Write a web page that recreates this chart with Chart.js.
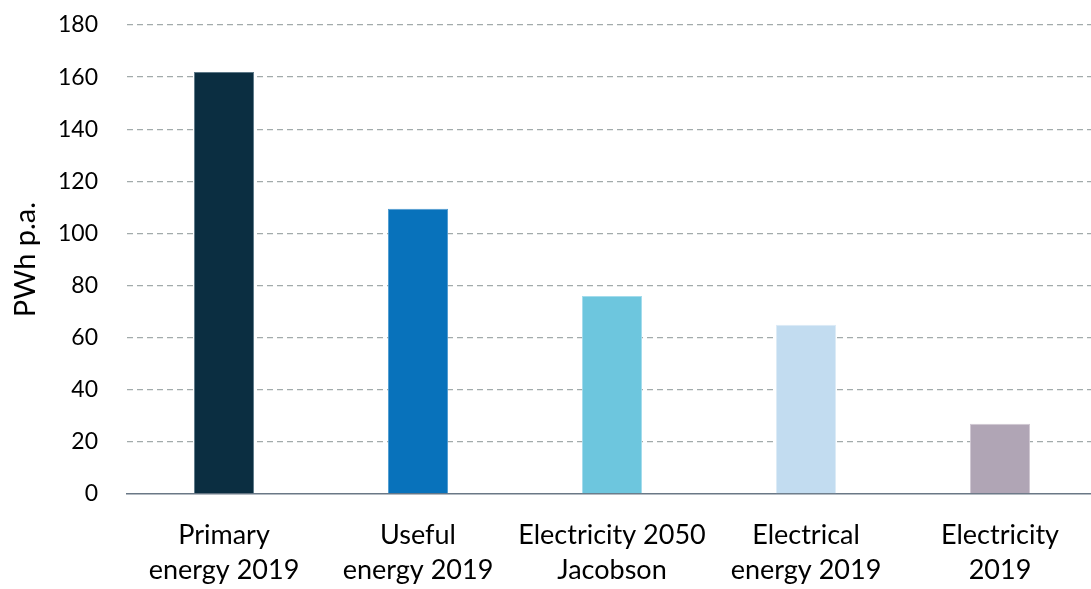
<!DOCTYPE html>
<html>
<head>
<meta charset="utf-8">
<script src="https://cdn.jsdelivr.net/npm/chart.js@4/dist/chart.umd.min.js"></script>
<style>
  html, body { margin: 0; padding: 0; background: #fff; overflow: hidden; }
  #wrap { width: 1100px; height: 589px; position: relative; }
</style>
</head>
<body>
<div id="wrap"><canvas id="c"></canvas></div>
<script>
// Energy totals, PWh per year
const categories = [
  ["Primary", "energy 2019"],
  ["Useful", "energy 2019"],
  ["Electricity 2050", "Jacobson"],
  ["Electrical", "energy 2019"],
  ["Electricity", "2019"]
];
const values = [162, 109.5, 76, 65, 27];
const barColors = ["#0b2e41", "#0872bb", "#6dc6de", "#c2dcf0", "#b0a5b5"];
const barEdges  = ["#5d7887", "#4f9bd0", "#a3dcec", "#dcebf7", "#cfc7d2"];
const yTicks = [0, 20, 40, 60, 80, 100, 120, 140, 160, 180];
const yTitle = "PWh p.a.";

const FONT = "Lato, 'Noto Sans', sans-serif";

new Chart(document.getElementById("c"), {
  type: "bar",
  data: {
    labels: categories,
    datasets: [{
      data: values,
      backgroundColor: barColors,
      borderColor: barEdges,
      borderWidth: 1,
      barPercentage: 0.31,
      categoryPercentage: 1.0
    }]
  },
  options: {
    responsive: true,
    maintainAspectRatio: false,
    animation: false,
    layout: { padding: { top: 25, right: 3, bottom: 0, left: 6 } },
    plugins: { legend: { display: false }, tooltip: { enabled: false } },
    scales: {
      x: {
        afterFit: (axis) => { axis.height = 95; },
        grid: { display: false, drawTicks: false },
        border: { display: true, color: "#6a7886", width: 1.5 },
        ticks: {
          color: "#000",
          font: { family: FONT, size: 27, lineHeight: 1.3 },
          padding: 24,
          maxRotation: 0,
          autoSkip: false
        }
      },
      y: {
        min: 0,
        max: 180,
        afterBuildTicks: (axis) => { axis.ticks = yTicks.map(v => ({ value: v })); },
        afterFit: (axis) => { axis.width = 121; axis.paddingTop = 0; axis.paddingBottom = 0; },
        grid: {
          color: (ctx) => ctx.tick && ctx.tick.value === 0 ? "rgba(0,0,0,0)" : "#a2abab",
          lineWidth: 1.3,
          drawTicks: false
        },
        border: { display: false, dash: [6, 4] },
        ticks: {
          color: "#000",
          font: { family: FONT, size: 23 },
          padding: 29
        },
        title: {
          display: true,
          text: yTitle,
          color: "#000",
          font: { family: FONT, size: 29 },
          padding: { top: 2, bottom: 0 }
        }
      }
    }
  }
});
</script>
</body>
</html>
